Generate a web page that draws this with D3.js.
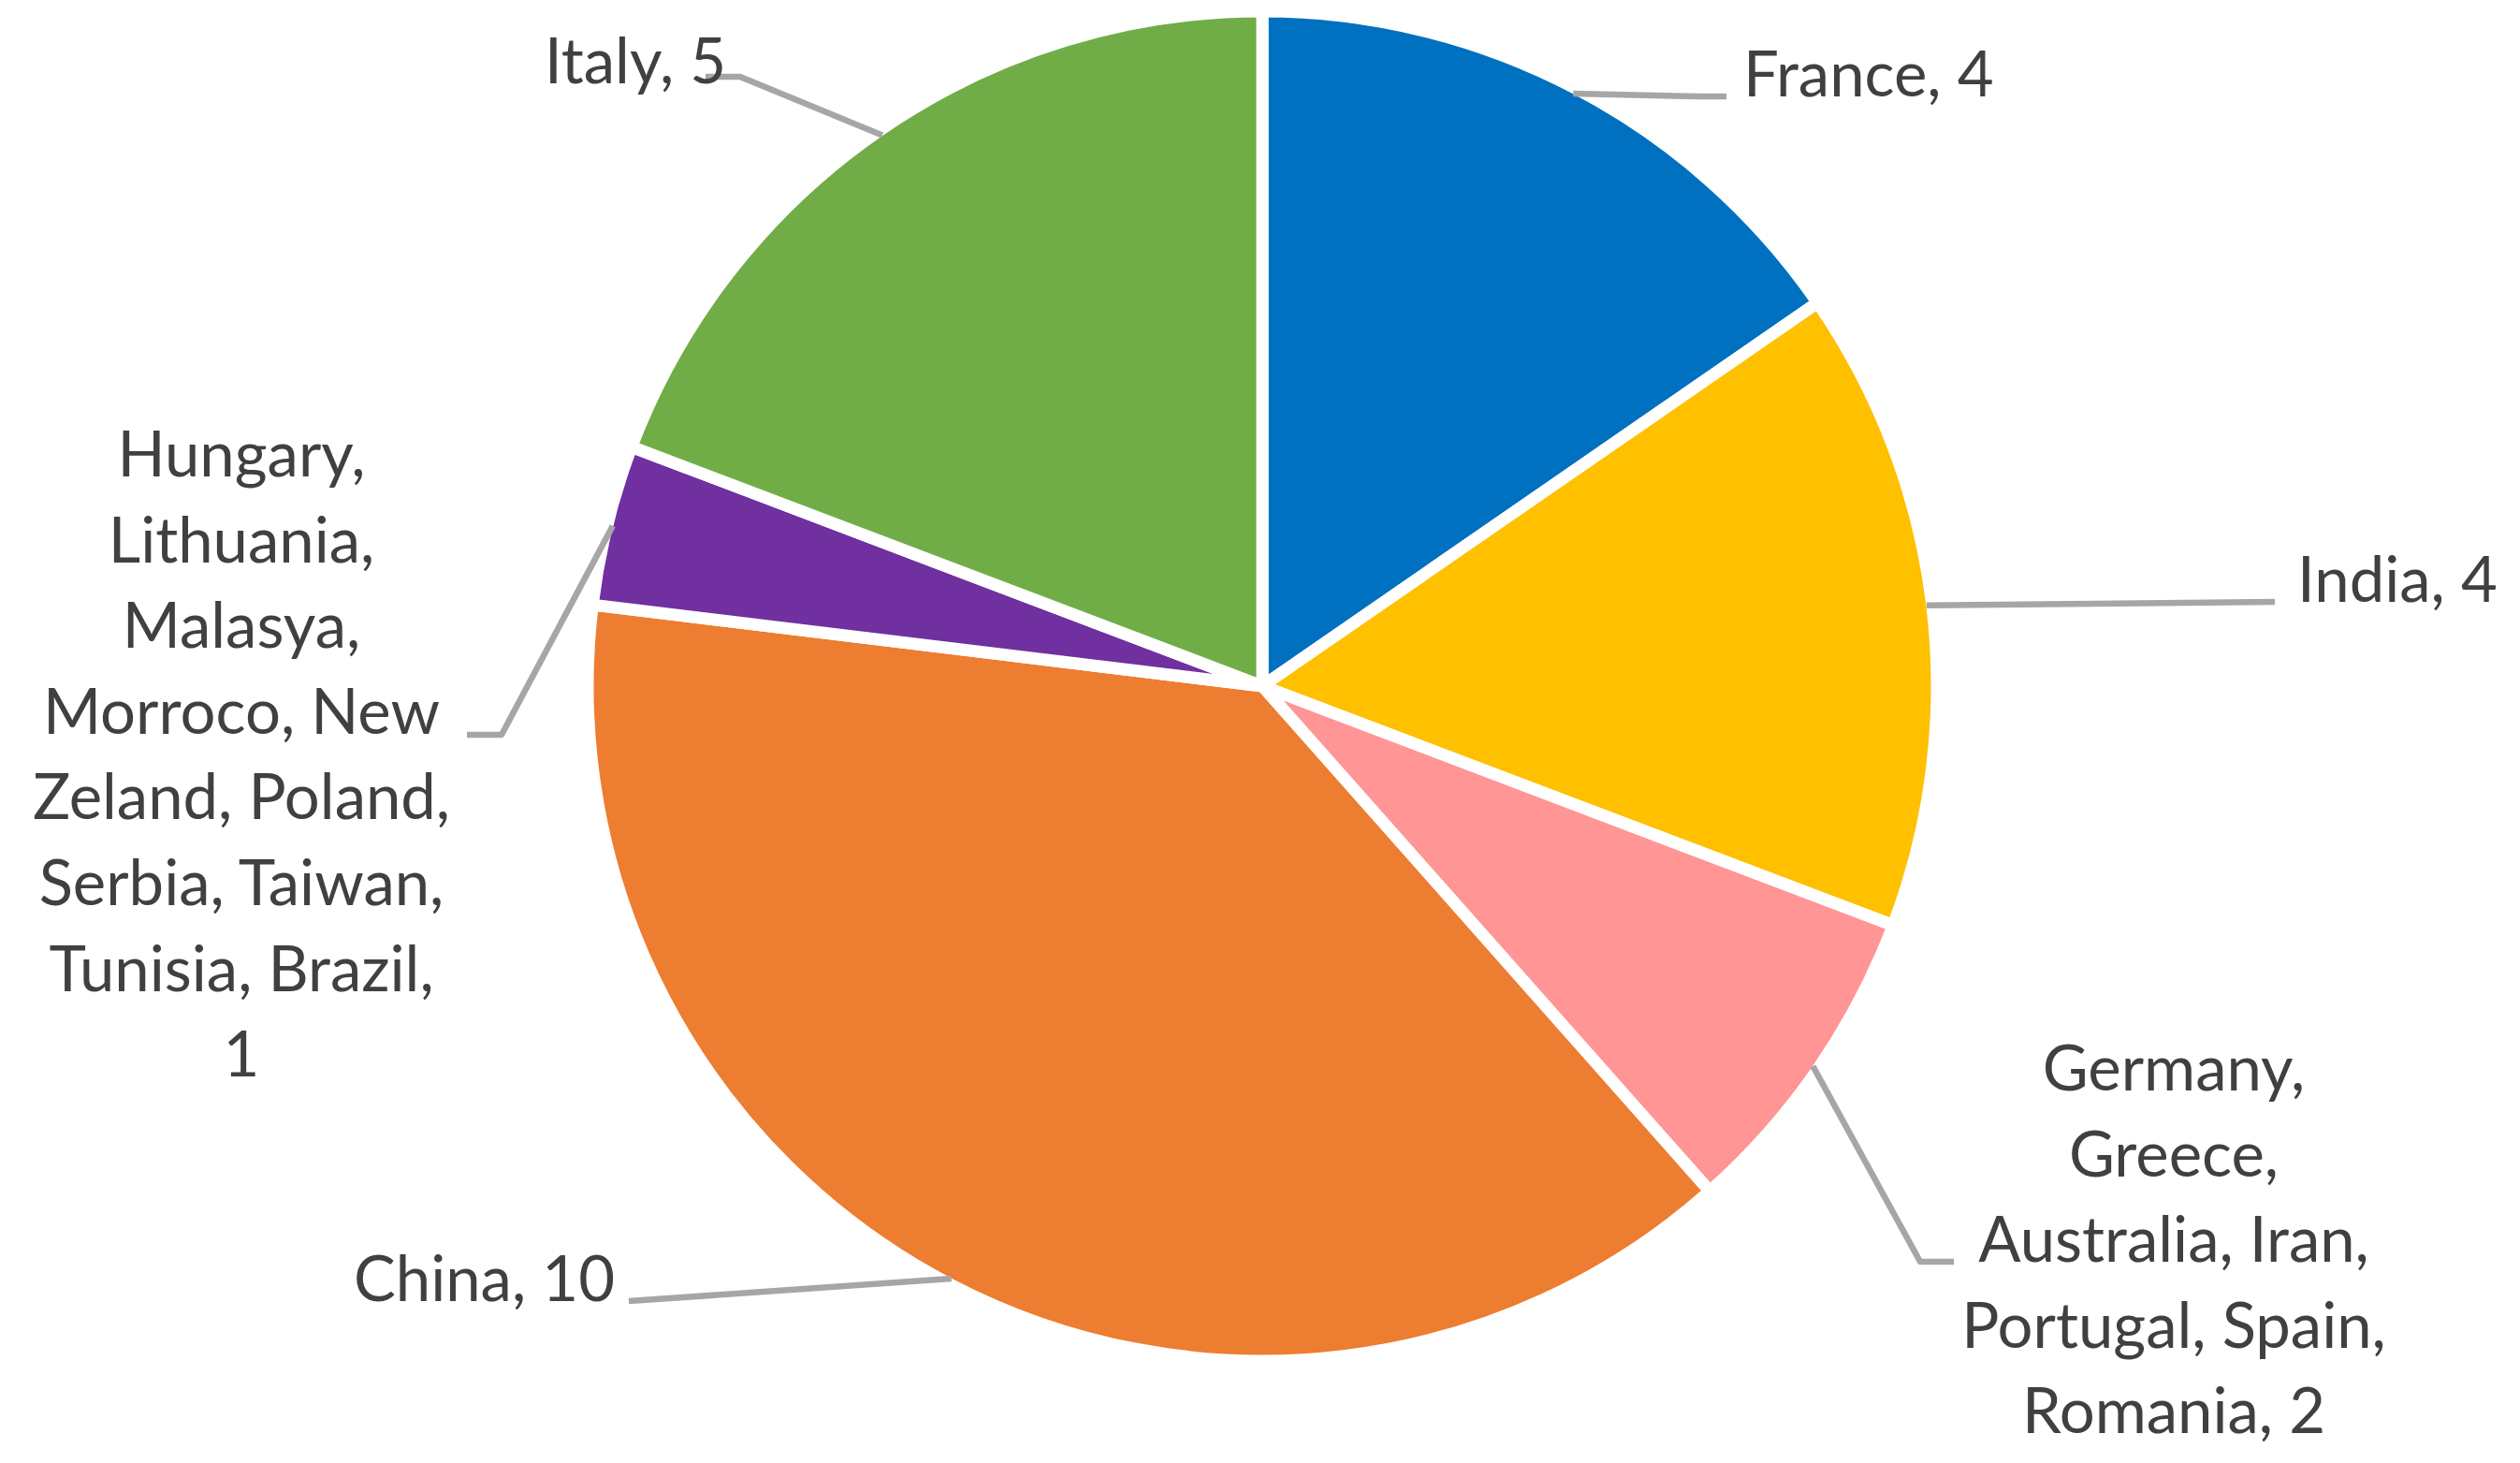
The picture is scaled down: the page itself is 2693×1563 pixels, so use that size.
<!DOCTYPE html>
<html>
<head>
<meta charset="utf-8">
<script src="https://cdn.jsdelivr.net/npm/d3@7"></script>
<style>
  html, body { margin: 0; padding: 0; background: #ffffff; }
  svg { display: block; }
</style>
</head>
<body>
<script>
// ---- data ----
const categories = [
  "France",
  "India",
  "Germany, Greece, Australia, Iran, Portugal, Spain, Romania",
  "China",
  "Hungary, Lithuania, Malasya, Morroco, New Zeland, Poland, Serbia, Taiwan, Tunisia, Brazil",
  "Italy"
];
const values = [4, 4, 2, 10, 1, 5];
const labelLines = [
  ["France, 4"],
  ["India, 4"],
  ["Germany,", "Greece,", "Australia, Iran,", "Portugal, Spain,", "Romania, 2"],
  ["China, 10"],
  ["Hungary,", "Lithuania,", "Malasya,", "Morroco, New", "Zeland, Poland,", "Serbia, Taiwan,", "Tunisia, Brazil,", "1"],
  ["Italy, 5"]
];
const colors = ["#0070C0", "#FFC000", "#FF9595", "#ED7D31", "#7030A0", "#70AD47"];

// ---- layout ----
const W = 2693, H = 1563;
const cx = 1349, cy = 733, R = 721;
const lineHeight = 91.6;
const labelLayout = [
  { x: 1863, y: 103, anchor: "start", pts: [[1815, 103], [1845, 103]] },
  { x: 2455, y: 643, anchor: "start", pts: [[2431, 643]] },
  { x: 2323, y: 1165, anchor: "middle", pts: [[2052, 1348], [2088, 1348]] },
  { x: 657, y: 1390, anchor: "end", pts: [[672, 1390]] },
  { x: 258, y: 509, anchor: "middle", pts: [[536, 785], [499, 785]] },
  { x: 582, y: 89, anchor: "start", pts: [[791, 82], [754, 82]] }
];

const svg = d3.select("body").append("svg")
  .attr("width", W).attr("height", H)
  .attr("viewBox", `0 0 ${W} ${H}`);

const pie = d3.pie().sort(null).value(d => d.value);
const arcs = pie(categories.map((c, i) => ({ name: c, value: values[i], i })));

const arc = d3.arc().innerRadius(0).outerRadius(R);
const edge = d3.arc().innerRadius(R - 6).outerRadius(R - 6);

const g = svg.append("g").attr("transform", `translate(${cx},${cy})`);

g.selectAll("path.slice").data(arcs).enter().append("path")
  .attr("class", "slice")
  .attr("d", arc)
  .attr("fill", d => colors[d.data.i])
  .attr("stroke", "#ffffff")
  .attr("stroke-width", 13)
  .attr("stroke-linejoin", "round");

// leader lines
const line = d3.line();
svg.selectAll("path.leader").data(arcs).enter().append("path")
  .attr("class", "leader")
  .attr("d", d => {
    const c = edge.centroid(d);
    const start = [cx + c[0], cy + c[1]];
    return line([start].concat(labelLayout[d.data.i].pts));
  })
  .attr("fill", "none")
  .attr("stroke", "#A6A6A6")
  .attr("stroke-width", 6.5)
  .attr("stroke-linejoin", "round");

// labels
const labels = svg.selectAll("text.label").data(arcs).enter().append("text")
  .attr("class", "label")
  .attr("x", d => labelLayout[d.data.i].x)
  .attr("y", d => labelLayout[d.data.i].y)
  .attr("text-anchor", d => labelLayout[d.data.i].anchor)
  .attr("font-family", "Lato, 'Open Sans', sans-serif")
  .attr("font-size", 67)
  .attr("fill", "#404040");

labels.each(function (d) {
  const L = labelLayout[d.data.i];
  d3.select(this).selectAll("tspan").data(labelLines[d.data.i]).enter().append("tspan")
    .attr("x", L.x)
    .attr("y", (t, k) => L.y + k * lineHeight)
    .text(t => t);
});
</script>
</body>
</html>
